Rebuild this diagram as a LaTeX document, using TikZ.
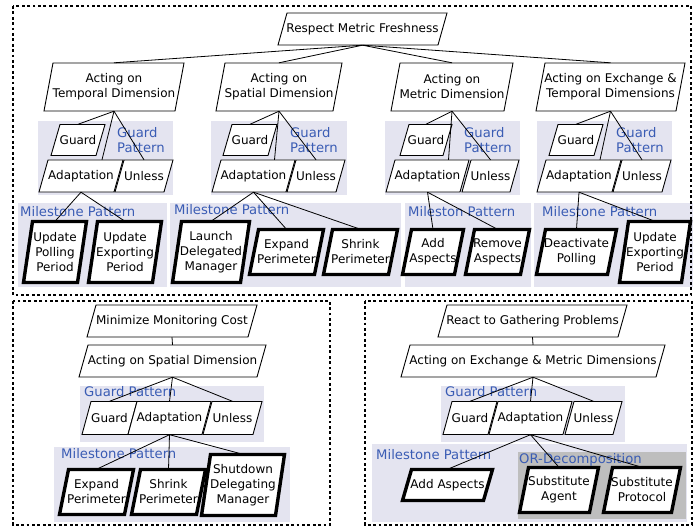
\documentclass[tikz,border=0pt]{standalone}
\usepackage{fontspec}
\setmainfont{DejaVu Sans}

\definecolor{patbg}{RGB}{228,228,240}
\definecolor{patblue}{RGB}{58,92,180}
\definecolor{orgray}{RGB}{190,190,190}

\newcommand{\goalfont}{\fontsize{12}{15}\selectfont}
\newcommand{\patfont}{\fontsize{13.2}{15.2}\selectfont}

\tikzset{
  goalline/.style={draw=black, fill=white, line width=0.9pt},
  ms/.style={line width=3.4pt},
  goaltext/.style={inner sep=0pt, align=center, font=\goalfont},
  link/.style={line width=0.8pt},
  patbox/.style={fill=patbg},
  patlabel/.style={anchor=west, inner sep=0pt, text=patblue, font=\patfont, align=left},
  frame/.style={line width=2.7pt, dash pattern=on 2.8pt off 2.6pt}
}
% slanted goal: [style](name)(x,y)(width,height){text}
\def\goalbox[#1](#2)(#3,#4)(#5,#6)#7{%
  \filldraw[goalline,#1] ({#3-#5/2},{#4+#6/2}) -- ({#3+#5/2-9},{#4+#6/2}) -- ({#3+#5/2},{#4-#6/2}) -- ({#3-#5/2+9},{#4-#6/2}) -- cycle;
  \node[goaltext, minimum width=#5pt, minimum height=#6pt] (#2) at (#3,#4) {#7};}

\begin{document}
\begin{tikzpicture}[x=1pt, y=-1pt]
		\useasboundingbox (0,0) rectangle (693,529);
		
		%%%%% PATTERN BOXES %%%%%
		\fill[patbox] (38,121) rectangle (173,195);
		\fill[patbox] (211,121) rectangle (347,195);
		\fill[patbox] (385,121) rectangle (520,195);
		\fill[patbox] (537,121) rectangle (672,195);
		\fill[patbox] (18,203) rectangle (167,287);
		\fill[patbox] (170,203) rectangle (401,287);
		\fill[patbox] (405,203) rectangle (531,287);
		\fill[patbox] (534,203) rectangle (693,287);
		\fill[patbox] (80,386) rectangle (264,442);
		\fill[patbox] (54,447) rectangle (290,522);
		\fill[patbox] (441,386) rectangle (625,442);
		\fill[patbox] (372,444) rectangle (687,522);
		\fill[orgray] (518,452) rectangle (686,519);
		
		\node[patlabel] (gp1) at (117,140) {Guard\\Pattern};
		\node[patlabel] (gp2) at (290,140) {Guard\\Pattern};
		\node[patlabel] (gp3) at (464,140) {Guard\\Pattern};
		\node[patlabel] (gp4) at (616,140) {Guard\\Pattern};
		\node[patlabel] (mp1) at (20,212) {Milestone Pattern};
		\node[patlabel] (mp2) at (174,210) {Milestone Pattern};
		\node[patlabel] (mp3) at (408,212) {Mileston Pattern};
		\node[patlabel] (mp4) at (542,212) {Milestone Pattern};
		\node[patlabel] (gp5) at (84,392) {Guard Pattern};
		\node[patlabel] (mp5) at (61,454) {Milestone Pattern};
		\node[patlabel] (gp6) at (445,392) {Guard Pattern};
		\node[patlabel] (mp6) at (376,455) {Milestone Pattern};
		\node[patlabel] (ord) at (519,460) {OR-Decomposition};
		
		%%%%% RESPECT METRIC FRESHNESS %%%%%
		\goalbox[](rmf)(362.5,29)(169,32){Respect Metric Freshness}
		\goalbox[](temp)(114,87)(140,48){Acting on\\Temporal Dimension}
		\goalbox[](spat)(279,87)(126,48){Acting on\\Spatial Dimension}
		\goalbox[](metr)(452,87)(122,48){Acting on\\Metric Dimension}
		\goalbox[](exte)(610.5,87)(149,48){Acting on Exchange \&\\Temporal Dimensions}
		
		\goalbox[](gd1)(78,140)(54,31){Guard}
		\goalbox[](ad1)(81,176)(84,32){Adaptation}
		\goalbox[](ul1)(144,176)(58,32){Unless}
		\goalbox[](gd2)(250,140)(54,31){Guard}
		\goalbox[](ad2)(253.5,176)(83,32){Adaptation}
		\goalbox[](ul2)(316,176)(58,32){Unless}
		\goalbox[](gd3)(426,140)(52,31){Guard}
		\goalbox[](ad3)(427.5,176)(83,32){Adaptation}
		\goalbox[](ul3)(490.5,176)(57,32){Unless}
		\goalbox[](gd4)(576,140)(54,31){Guard}
		\goalbox[](ad4)(579,176)(84,32){Adaptation}
		\goalbox[](ul4)(642,176)(58,32){Unless}
		
		\goalbox[ms](upp)(55,252)(63,61){Update\\Polling\\Period}
		\goalbox[ms](uep1)(125,252)(73,61){Update\\Exporting\\Period}
		\goalbox[ms](ldm)(211,252)(77,61){Launch\\Delegated\\Manager}
		\goalbox[ms](exp1)(286.5,252)(74,45){Expand\\Perimeter}
		\goalbox[ms](shr1)(360.5,252)(74,45){Shrink\\Perimeter}
		\goalbox[ms](add1)(433,252)(61,45){Add\\Aspects}
		\goalbox[ms](rem1)(497.5,252)(64,45){Remove\\Aspects}
		\goalbox[ms](dea)(576.5,252)(80,45){Deactivate\\Polling}
		\goalbox[ms](uep2)(655,252)(71,61){Update\\Exporting\\Period}
		
		\draw[link] (rmf.south) -- (temp.north);
		\draw[link] (rmf.south) -- (spat.north);
		\draw[link] (rmf.south) -- (metr.north);
		\draw[link] (rmf.south) -- (exte.north);
		
		\draw[link] (temp.south) -- (gd1.north);
		\draw[link] (temp.south) -- ([xshift=21pt]ad1.north);
		\draw[link] (temp.south) -- (ul1.north);
		\draw[link] (spat.south) -- (gd2.north);
		\draw[link] (spat.south) -- ([xshift=21pt]ad2.north);
		\draw[link] (spat.south) -- (ul2.north);
		\draw[link] (metr.south) -- (gd3.north);
		\draw[link] (metr.south) -- ([xshift=21pt]ad3.north);
		\draw[link] (metr.south) -- (ul3.north);
		\draw[link] (exte.south) -- (gd4.north);
		\draw[link] (exte.south) -- ([xshift=21pt]ad4.north);
		\draw[link] (exte.south) -- (ul4.north);
		
		\draw[link] (ad1.south) -- (upp.north);
		\draw[link] (ad1.south) -- (uep1.north);
		\draw[link] (ad2.south) -- (ldm.north);
		\draw[link] (ad2.south) -- (exp1.north);
		\draw[link] (ad2.south) -- (shr1.north);
		\draw[link] (ad3.south) -- (add1.north);
		\draw[link] (ad3.south) -- (rem1.north);
		\draw[link] (ad4.south) -- (dea.north);
		\draw[link] (ad4.south) -- (uep2.north);
		
		%%%%% MINIMIZE MONITORING COST %%%%%
		\goalbox[](mmc)(172,321)(170,32){Minimize Monitoring Cost}
		\goalbox[](asd)(172.5,361)(187,32){Acting on Spatial Dimension}
		\goalbox[](gd5)(109.5,418)(55,33){Guard}
		\goalbox[](ad5)(169.5,418)(83,33){Adaptation}
		\goalbox[](ul5)(232.5,418)(59,33){Unless}
		\goalbox[ms](exp2)(96.5,492)(74,45){Expand\\Perimeter}
		\goalbox[ms](shr2)(168.5,492)(74,45){Shrink\\Perimeter}
		\goalbox[ms](sdm)(243,485)(83,61){Shutdown\\Delegating\\Manager}
		
		\draw[link] (mmc.south) -- (asd.north);
		\draw[link] (asd.south) -- (gd5.north);
		\draw[link] (asd.south) -- (ad5.north);
		\draw[link] (asd.south) -- (ul5.north);
		\draw[link] (ad5.south) -- (exp2.north);
		\draw[link] (ad5.south) -- (shr2.north);
		\draw[link] (ad5.south) -- (sdm.north);
		
		%%%%% REACT TO GATHERING PROBLEMS %%%%%
		\goalbox[](rgp)(532.5,321)(189,32){React to Gathering Problems}
		\goalbox[](aem)(533,361)(264,32){Acting on Exchange \& Metric Dimensions}
		\goalbox[](gd6)(470,418)(54,33){Guard}
		\goalbox[](ad6)(530.5,418)(83,33){Adaptation}
		\goalbox[](ul6)(593.5,418)(57,33){Unless}
		\goalbox[ms](add2)(447.5,485)(90,31){Add Aspects}
		\goalbox[ms](sag)(559,490)(79,45){Substitute\\Agent}
		\goalbox[ms](spr)(642,490)(77,45){Substitute\\Protocol}
		
		\draw[link] (rgp.south) -- (aem.north);
		\draw[link] (aem.south) -- (gd6.north);
		\draw[link] (aem.south) -- (ad6.north);
		\draw[link] (aem.south) -- (ul6.north);
		\draw[link] (ad6.south) -- (add2.north);
		\draw[link] (ad6.south) -- (sag.north);
		\draw[link] (ad6.south) -- (spr.north);
		
		%%%%% FRAMES %%%%%
		\draw[frame] (13,6) rectangle (691,295);
		\draw[frame] (13,301) rectangle (330,525);
		\draw[frame] (365,301) rectangle (692,525);
	\end{tikzpicture}
\end{document}
